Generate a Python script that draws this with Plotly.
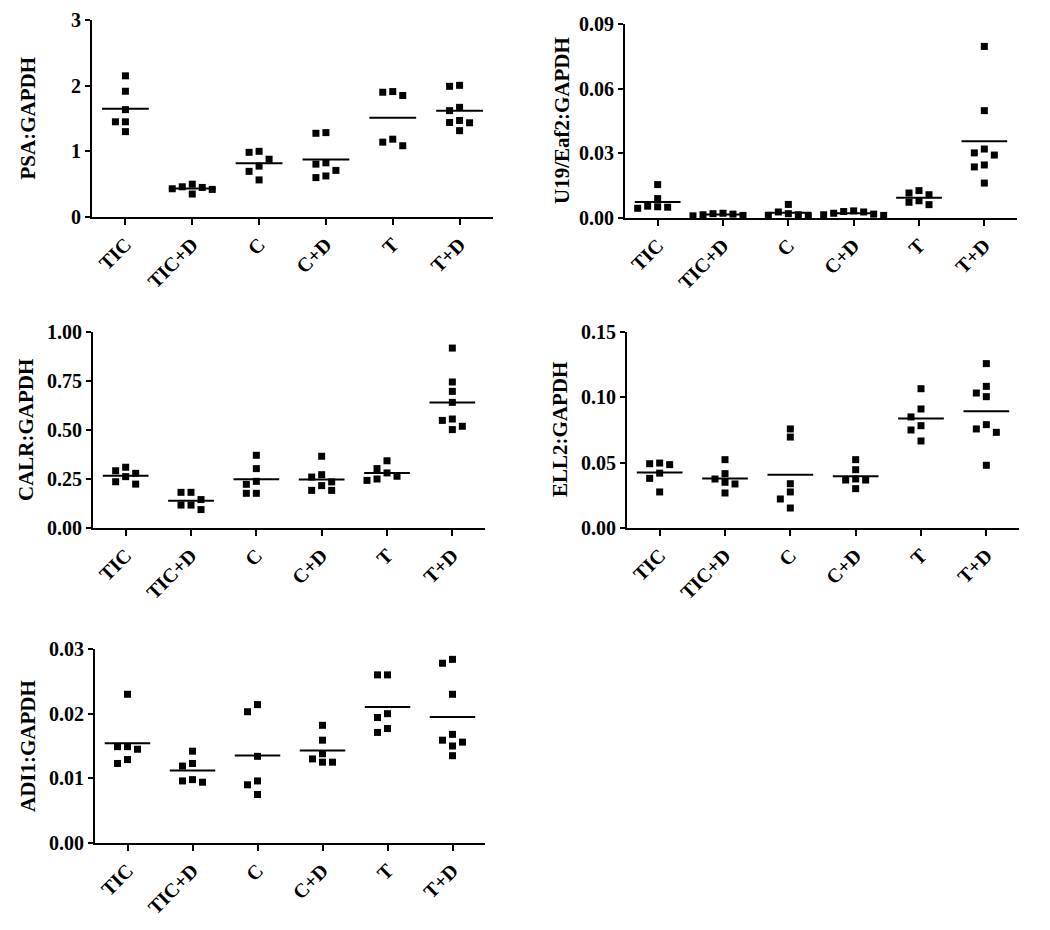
import plotly.graph_objects as go

W, H = 1050, 930
OFF = 8  # page body margin in the browser
groups = ["TIC", "TIC+D", "C", "C+D", "T", "T+D"]

# ---- data ----
psa = [
    [2.15, 1.915, 1.635, 1.45, 1.45, 1.30],
    [0.50, 0.46, 0.45, 0.43, 0.42, 0.35],
    [1.00, 0.985, 0.88, 0.775, 0.695, 0.565],
    [1.285, 1.275, 0.825, 0.805, 0.71, 0.625, 0.60],
    [1.91, 1.90, 1.85, 1.185, 1.14, 1.085],
    [2.005, 1.99, 1.67, 1.62, 1.47, 1.44, 1.435, 1.315],
]
u19 = [
    [0.0155, 0.0090, 0.0055, 0.0052, 0.0050, 0.0045],
    [0.0022, 0.0020, 0.0018, 0.0015, 0.0012, 0.0010],
    [0.0063, 0.0028, 0.0020, 0.0015, 0.0012, 0.0010],
    [0.0033, 0.0030, 0.0028, 0.0022, 0.0018, 0.0015, 0.0012],
    [0.0127, 0.0116, 0.0108, 0.0080, 0.0073, 0.0062],
    [0.0796, 0.0498, 0.0320, 0.0302, 0.0292, 0.0246, 0.0237, 0.0162],
]
calr = [
    [0.310, 0.292, 0.279, 0.262, 0.236, 0.224],
    [0.182, 0.182, 0.145, 0.117, 0.117, 0.094],
    [0.371, 0.303, 0.238, 0.223, 0.177, 0.177],
    [0.366, 0.272, 0.260, 0.235, 0.216, 0.192, 0.192],
    [0.343, 0.303, 0.281, 0.264, 0.250, 0.243],
    [0.918, 0.745, 0.697, 0.641, 0.556, 0.549, 0.519, 0.502],
]
ell2 = [
    [0.0497, 0.0492, 0.0485, 0.0420, 0.0380, 0.0276],
    [0.0523, 0.0416, 0.0375, 0.0350, 0.0337, 0.0268],
    [0.0758, 0.0696, 0.0339, 0.0276, 0.0222, 0.0153],
    [0.0523, 0.0446, 0.0375, 0.0367, 0.0367, 0.0301],
    [0.1066, 0.0911, 0.0850, 0.0783, 0.0750, 0.0666],
    [0.1258, 0.1084, 0.1033, 0.1005, 0.0791, 0.0758, 0.0732, 0.0480],
]
adi1 = [
    [0.0230, 0.0149, 0.0149, 0.0145, 0.0129, 0.0123],
    [0.0142, 0.0123, 0.0119, 0.0098, 0.0096, 0.0094],
    [0.0214, 0.0203, 0.0134, 0.0096, 0.0090, 0.0075],
    [0.0182, 0.0159, 0.0138, 0.0130, 0.0125, 0.0125],
    [0.0260, 0.0260, 0.0200, 0.0194, 0.0177, 0.0171],
    [0.0284, 0.0278, 0.0230, 0.0168, 0.0159, 0.0156, 0.0150, 0.0135],
]

titles = ["PSA:GAPDH", "U19/Eaf2:GAPDH", "CALR:GAPDH", "ELL2:GAPDH", "ADI1:GAPDH"]
ymax = [3, 0.09, 1.0, 0.15, 0.03]
ytickvals = [[0, 1, 2, 3], [0, 0.03, 0.06, 0.09], [0, 0.25, 0.5, 0.75, 1.0],
             [0, 0.05, 0.10, 0.15], [0, 0.01, 0.02, 0.03]]
yticktext = [["0", "1", "2", "3"], ["0.00", "0.03", "0.06", "0.09"],
             ["0.00", "0.25", "0.50", "0.75", "1.00"],
             ["0.00", "0.05", "0.10", "0.15"], ["0.00", "0.01", "0.02", "0.03"]]
datasets = [psa, u19, calr, ell2, adi1]

# ---- layout (pixels on the page) ----
boxes = [  # x0, x1, ytop, ybottom, title x
    (92, 493, 20, 217, 28),
    (625, 1017, 24, 218, 562),
    (93, 485, 332, 528, 26),
    (627, 1019, 332, 528, 560),
    (95, 485, 649, 843, 28),
]

MS = 7          # marker size px
STEP = 10       # horizontal spacing px
THR = 8         # vertical collision threshold px
HALF = 0.35     # half-width of mean line (category units)

font_fam = "Liberation Serif, Times New Roman, serif"


def swarm(vals, px_per_unit, step_units):
    order = sorted(range(len(vals)), key=lambda i: -vals[i])
    placed = []
    offs = [0.0] * len(vals)
    for i in order:
        v = vals[i]
        for k in [0, -1, 1, -2, 2, -3, 3]:
            if all(not (pk == k and abs(v - pv) * px_per_unit < THR) for pv, pk in placed):
                placed.append((v, k))
                offs[i] = k * step_units
                break
    return offs


def fx(px):
    return (px - OFF) / W


def fy(py):
    return 1 - (py - OFF) / H


fig = go.Figure()
layout = {}
annotations = []
for p in range(5):
    x0, x1, yt, yb, tx = boxes[p]
    ax = "" if p == 0 else str(p + 1)
    xa, ya = "x" + ax, "y" + ax
    cat_px = (x1 - x0) / 6.0
    ppu = (yb - yt) / ymax[p]
    xs, ys = [], []
    for gi, vals in enumerate(datasets[p]):
        offs = swarm(vals, ppu, STEP / cat_px)
        for v, o in zip(vals, offs):
            xs.append(gi + o)
            ys.append(v)
        m = sum(vals) / len(vals)
        fig.add_trace(go.Scatter(x=[gi - HALF, gi + HALF], y=[m, m], mode="lines",
                                 line=dict(color="black", width=2), xaxis=xa, yaxis=ya,
                                 showlegend=False, hoverinfo="skip", cliponaxis=False))
    fig.add_trace(go.Scatter(x=xs, y=ys, mode="markers",
                             marker=dict(symbol="square", size=MS, color="black", line=dict(width=0)),
                             xaxis=xa, yaxis=ya, showlegend=False, cliponaxis=False))
    layout["xaxis" + ax] = dict(
        domain=[fx(x0), fx(x1)], anchor=ya, range=[-0.5, 5.5], automargin=False,
        tickvals=list(range(6)), ticktext=groups, tickangle=-45, ticklabeloverflow="allow",
        showline=True, linecolor="black", linewidth=2, ticks="outside",
        ticklen=6, tickwidth=2, tickcolor="black", showgrid=False, zeroline=False,
        tickfont=dict(family=font_fam, size=20, color="black", weight="bold"))
    layout["yaxis" + ax] = dict(
        domain=[fy(yb), fy(yt)], anchor=xa, range=[0, ymax[p]], automargin=False,
        tickvals=ytickvals[p], ticktext=yticktext[p], ticklabeloverflow="allow",
        showline=True, linecolor="black", linewidth=2, ticks="outside",
        ticklen=5, tickwidth=2, tickcolor="black", showgrid=False, zeroline=False,
        tickfont=dict(family=font_fam, size=20, color="black", weight="bold"))
    annotations.append(dict(text=titles[p], xref="paper", yref="paper",
                            x=fx(tx), y=fy((yt + yb) / 2), textangle=-90,
                            showarrow=False, xanchor="center", yanchor="middle",
                            font=dict(family=font_fam, size=21, color="black", weight="bold")))

fig.update_layout(width=W, height=H, margin=dict(l=0, r=0, t=0, b=0, autoexpand=False),
                  paper_bgcolor="white", plot_bgcolor="white",
                  annotations=annotations, **layout)
fig.write_html("out.html")
